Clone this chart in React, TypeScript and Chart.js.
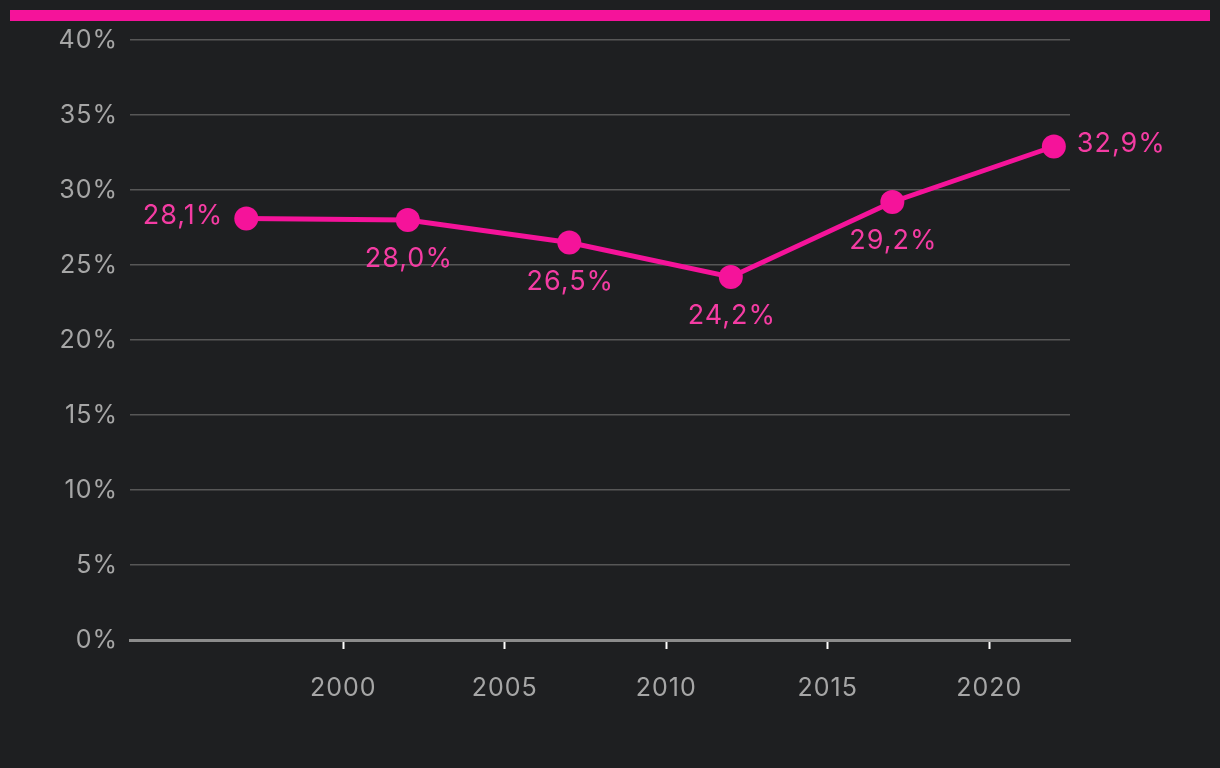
import React, { useEffect, useRef } from "react";
import { Chart, registerables } from "chart.js";

Chart.register(...registerables);

const years = [1997, 2002, 2007, 2012, 2017, 2022];
const values = [28.1, 28.0, 26.5, 24.2, 29.2, 32.9];
const valueLabels = ["28,1%", "28,0%", "26,5%", "24,2%", "29,2%", "32,9%"];
const labelPlacement = ["left", "below", "below", "below", "below", "right"];
const xTicks = [2000, 2005, 2010, 2015, 2020];
const yTicks = [0, 5, 10, 15, 20, 25, 30, 35, 40];

const BG = "#1e1f21";
const PINK = "#f5139a";
const LABEL_PINK = "#f43ca3";
const FONT = "Inter, 'Noto Sans', sans-serif";

const spacingPlugin = {
  id: "spacing",
  beforeDraw(chart: any) {
    (chart.ctx as any).letterSpacing = "1px";
  },
};

const labelPlugin = {
  id: "valueLabels",
  afterDatasetsDraw(chart: any) {
    const ctx = chart.ctx;
    const meta = chart.getDatasetMeta(0);
    ctx.save();
    (ctx as any).letterSpacing = "1px";
    ctx.font = `27px ${FONT}`;
    ctx.fillStyle = LABEL_PINK;
    ctx.textBaseline = "middle";
    meta.data.forEach((pt: any, i: number) => {
      const p = labelPlacement[i];
      const t = valueLabels[i];
      if (p === "left") {
        ctx.textAlign = "right";
        ctx.fillText(t, pt.x - 23, pt.y - 3);
      } else if (p === "right") {
        ctx.textAlign = "left";
        ctx.fillText(t, pt.x + 23, pt.y - 3);
      } else {
        ctx.textAlign = "center";
        ctx.fillText(t, pt.x + 1, pt.y + 39);
      }
    });
    ctx.restore();
  },
};

export default function App() {
  const ref = useRef<HTMLCanvasElement>(null);
  useEffect(() => {
    if (!ref.current) return;
    const chart = new Chart(ref.current, {
      type: "line",
      data: {
        datasets: [
          {
            data: years.map((y, i) => ({ x: y, y: values[i] })),
            borderColor: PINK,
            backgroundColor: PINK,
            borderWidth: 5,
            pointRadius: 12,
            pointHoverRadius: 12,
            pointBackgroundColor: PINK,
            pointBorderWidth: 0,
            tension: 0,
          },
        ],
      },
      options: {
        animation: false,
        responsive: false,
        maintainAspectRatio: false,
        events: [],
        layout: { padding: { left: 0, right: 150, top: 40, bottom: 0 } },
        plugins: {
          legend: { display: false },
          tooltip: { enabled: false },
        },
        scales: {
          x: {
            type: "linear",
            min: 1993.4,
            max: 2022.5,
            afterBuildTicks: (s: any) => {
              s.ticks = xTicks.map((v) => ({ value: v }));
            },
            afterFit: (s: any) => {
              s.height = 128;
            },
            grid: {
              drawOnChartArea: false,
              drawTicks: true,
              tickLength: 9,
              tickColor: "#ffffff",
              tickWidth: 2,
            },
            border: { display: true, color: "#8c8c8c", width: 3 },
            ticks: {
              color: "#a6a6a6",
              font: { family: FONT, size: 25 },
              padding: 24,
              maxRotation: 0,
              callback: (v: any) => String(v),
            },
          },
          y: {
            type: "linear",
            min: 0,
            max: 40,
            afterBuildTicks: (s: any) => {
              s.ticks = yTicks.map((v) => ({ value: v }));
            },
            afterFit: (s: any) => {
              s.width = 130;
            },
            grid: {
              color: "#575757",
              lineWidth: 1.5,
              drawTicks: false,
            },
            border: { display: false },
            ticks: {
              color: "#a6a6a6",
              font: { family: FONT, size: 25 },
              padding: 12,
              callback: (v: any) => `${v}%`,
            },
          },
        },
      },
      plugins: [spacingPlugin, labelPlugin],
    });
    return () => chart.destroy();
  }, []);

  return (
    <div
      style={{
        position: "fixed",
        left: 0,
        top: 0,
        width: 1220,
        height: 768,
        background: BG,
      }}
    >
      <div
        style={{
          position: "absolute",
          left: 10,
          top: 10,
          width: 1200,
          height: 11,
          background: PINK,
        }}
      />
      <canvas
        ref={ref}
        width={1220}
        height={768}
        style={{ position: "absolute", left: 0, top: 0, width: 1220, height: 768 }}
      />
    </div>
  );
}
